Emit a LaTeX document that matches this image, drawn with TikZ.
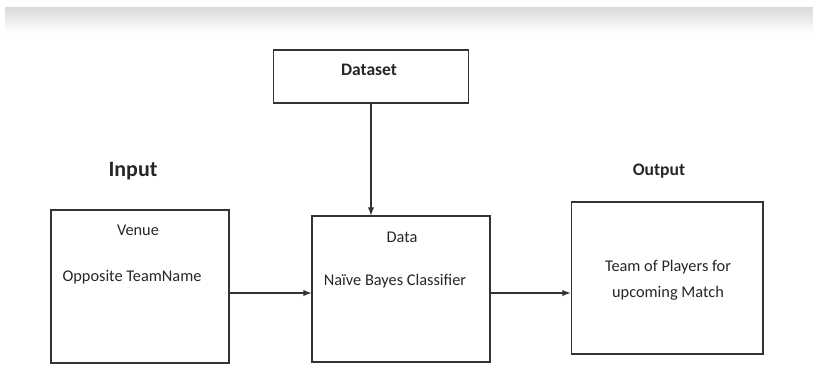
\documentclass[tikz,border=0pt]{standalone}
\usepackage{fontspec}
\setmainfont{Carlito}
\usetikzlibrary{calc}

\begin{document}
\begin{tikzpicture}[x=0.02cm,y=-0.02cm,->,>=latex,font=\fontsize{9.3}{11}\selectfont,text=black!85,
    box/.style={draw=black!80,line width=0.6pt,rectangle,inner sep=0pt},
    head/.style={font=\bfseries\fontsize{10}{12}\selectfont}]
    \useasboundingbox (0,0) rectangle (813,365);
    \shade[-,top color=black!15,bottom color=white,draw=none] (5,7) rectangle (813,33);
    % boxes
    \node[box,minimum width=3.9cm,minimum height=1.06cm] (dataset) at (371,76.5) {};
    \node[box,minimum width=3.56cm,minimum height=3.06cm] (inbox) at (140,286.5) {};
    \node[box,minimum width=3.56cm,minimum height=2.92cm] (model) at (401,289) {};
    \node[box,minimum width=3.84cm,minimum height=3.04cm] (outbox) at (667,278) {};
    % labels
    \node[head] (dslbl) at (369,70) {Dataset};
    \node[head,font=\bfseries\fontsize{12.5}{14}\selectfont] (inlbl) at (133,171) {Input};
    \node[head] (outlbl) at (659,171) {Output};
    \node (venue) at (138,230) {Venue};
    \node (team) at (132,277) {Opposite TeamName};
    \node (datalbl) at (402,237) {Data};
    \node (nbc) at (395,281) {Naïve Bayes Classifier};
    \node[align=center,font=\fontsize{9.3}{14.5}\selectfont] (squad) at (668,280) {Team of Players for\\upcoming Match};
    % connectors
    \coordinate (flow) at (0,293);
    \draw[black!80,line width=0.6pt] (dataset.south) -- (dataset.south |- model.north);
    \draw[black!80,line width=0.6pt] (inbox.east |- flow) -- (model.west |- flow);
    \draw[black!80,line width=0.6pt] (model.east |- flow) -- (outbox.west |- flow);
\end{tikzpicture}
\end{document}
